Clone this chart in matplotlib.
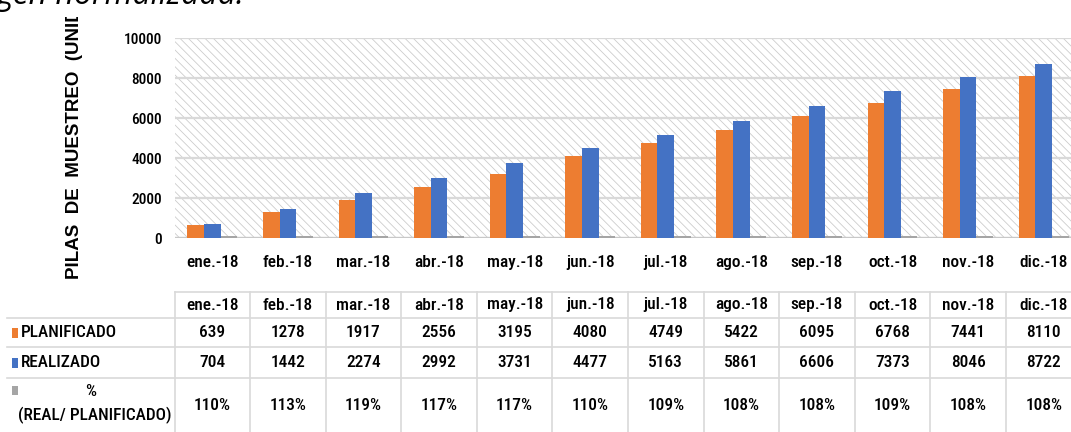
import matplotlib
matplotlib.use("Agg")
import matplotlib.pyplot as plt
import matplotlib.transforms as mtransforms
from matplotlib import font_manager as fm
from matplotlib.patches import Rectangle
from matplotlib.lines import Line2D
import numpy as np

# ---- data -------------------------------------------------------------
months = ["ene.-18", "feb.-18", "mar.-18", "abr.-18", "may.-18", "jun.-18",
          "jul.-18", "ago.-18", "sep.-18", "oct.-18", "nov.-18", "dic.-18"]
planificado = [639, 1278, 1917, 2556, 3195, 4080, 4749, 5422, 6095, 6768, 7441, 8110]
realizado = [704, 1442, 2274, 2992, 3731, 4477, 5163, 5861, 6606, 7373, 8046, 8722]
porcentaje = [110, 113, 119, 117, 117, 110, 109, 108, 108, 109, 108, 108]
yticks = [0, 2000, 4000, 6000, 8000, 10000]
row_labels = ["PLANIFICADO", "REALIZADO"]

# ---- style ------------------------------------------------------------
C_PLAN = "#ED7D31"
C_REAL = "#4472C4"
C_PCT = "#A5A5A5"
C_GRID = "#D9D9D9"
WIDE = ["Liberation Sans", "DejaVu Sans"]


def narrow_font():
    """Pick a narrow sans-serif face if one is installed."""
    entries = fm.fontManager.ttflist
    names = {f.name for f in entries}
    for fam in ("Liberation Sans Narrow", "Arial Narrow", "Roboto Condensed",
                "Open Sans Condensed", "Noto Sans Condensed", "DejaVu Sans Condensed"):
        if fam in names:
            return dict(family=[fam, "DejaVu Sans"])
    for fam in ("DejaVu Sans", "Noto Sans", "Open Sans", "Roboto"):
        for f in entries:
            if f.name == fam and "condensed" in str(f.stretch) and f.weight in (400, "normal", "regular"):
                return dict(family=[fam, "DejaVu Sans"], stretch="condensed")
    return dict(family=["Liberation Sans", "DejaVu Sans"])


NKW = narrow_font()
NKW["weight"] = 500

W, H = 1071, 432
fig = plt.figure(figsize=(W / 100, H / 100), dpi=100)
fig.patch.set_facecolor("white")
renderer = fig.canvas.get_renderer()


def fit_size(s, width_px, lo, hi):
    """Font size at which string s spans about width_px pixels."""
    t = fig.text(0, 0, s, fontsize=13, **NKW)
    w = t.get_window_extent(renderer).width
    t.remove()
    return float(np.clip(13 * width_px / w, lo, hi))


FS = fit_size("ene.-18", 53.0, 10.5, 14.5)
FS_Y = fit_size("10000", 38.0, 10.5, 14.5)
FS_ROW = fit_size("PLANIFICADO", 96.0, 10.0, 14.5)

# plot area in pixel terms (left, top, width, height)
px_left, px_top, px_w, px_h = 174.5, 38, 907, 200
ax = fig.add_axes([px_left / W, 1 - (px_top + px_h) / H, px_w / W, px_h / H])

x = np.arange(len(months))
bw = 0.22
ax.bar(x - bw, planificado, bw, color=C_PLAN, zorder=3)
ax.bar(x, realizado, bw, color=C_REAL, zorder=3)
ax.bar(x + bw, porcentaje, bw, color=C_PCT, zorder=3)

ax.set_xlim(-0.5, len(months) - 0.5)
ax.set_ylim(0, 10000)
ax.set_yticks(yticks)
ax.set_yticklabels([str(v) for v in yticks], fontsize=FS_Y, **NKW)
ax.set_xticks(x)
ax.set_xticklabels(months, fontsize=FS, **NKW)
ax.tick_params(axis="both", length=0)
ax.tick_params(axis="y", pad=9)
ax.tick_params(axis="x", pad=12.5)
for s in ax.spines.values():
    s.set_visible(False)

# hatched plot background
plt.rcParams["hatch.linewidth"] = 0.6
ax.add_patch(Rectangle((0, 0), 1, 1, transform=ax.transAxes, facecolor="white",
                       edgecolor="#CCCCCC", hatch="\\\\\\\\", lw=0, zorder=0))
ax.set_axisbelow(True)
ax.yaxis.grid(True, color=C_GRID, lw=1.6, zorder=1)
ax.axhline(0, color="#C8C8C8", lw=1.6, zorder=2)

# ---- data table below the plot ----------------------------------------
ov = fig.add_axes([0, 0, 1, 1])
ov.set_xlim(0, W)
ov.set_ylim(H, 0)
ov.axis("off")
ov.patch.set_alpha(0)
col = mtransforms.blended_transform_factory(ax.transData, ov.transData)

y_head_top, y_r1, y_r2, y_r3, y_bot = 292, 318, 347, 378, 440
lw_t = 1.2
ov.add_line(Line2D([-0.5, len(months) - 0.5], [y_head_top, y_head_top],
                   transform=col, color=C_GRID, lw=lw_t))
for yy in (y_r1, y_r2, y_r3):
    ov.add_line(Line2D([7, W + 20], [yy, yy], color=C_GRID, lw=lw_t))
for k in range(len(months) + 1):
    ov.add_line(Line2D([k - 0.5, k - 0.5], [y_head_top, y_bot],
                       transform=col, color=C_GRID, lw=lw_t))

yc_head = (y_head_top + y_r1) / 2
yc_plan = (y_r1 + y_r2) / 2
yc_real = (y_r2 + y_r3) / 2
yc_pct = 405
for i in range(len(months)):
    ov.text(i, yc_head, months[i], transform=col, ha="center", va="center",
            fontsize=FS, **NKW)
    ov.text(i, yc_plan, str(planificado[i]), transform=col, ha="center",
            va="center", fontsize=FS, **NKW)
    ov.text(i, yc_real, str(realizado[i]), transform=col, ha="center",
            va="center", fontsize=FS, **NKW)
    ov.text(i, yc_pct, f"{porcentaje[i]}%", transform=col, ha="center",
            va="center", fontsize=FS, **NKW)

# row headers with legend keys
for yc, lab, c in ((yc_plan, row_labels[0], C_PLAN), (yc_real, row_labels[1], C_REAL)):
    ov.add_patch(Rectangle((12, yc - 5), 6, 10, facecolor=c, lw=0))
    ov.text(21, yc, lab, ha="left", va="center", fontsize=FS_ROW, **NKW)
ov.add_patch(Rectangle((12, 386), 6, 9, facecolor=C_PCT, lw=0))
ov.text(91, 391, "%", ha="center", va="center", fontsize=FS_ROW, **NKW)
ov.text(95, 415, "(REAL/ PLANIFICADO)", ha="center", va="center",
        fontsize=FS_ROW, **NKW)

# axis title
fig.text(75 / W, 1 - 279 / H, "PILAS  DE  MUESTREO  (UNIDADES)", rotation=90,
         ha="center", va="bottom", family=WIDE, fontweight="bold", fontsize=13.5,
         zorder=1)

# caption line above the chart (its white box sits over the axis title)
fig.text(-4 / W, 1 - 4 / H, "gen normalizada.", ha="left", va="baseline",
         family=["Open Sans", "DejaVu Sans"], style="italic", fontsize=23,
         zorder=5,
         bbox=dict(facecolor="white", edgecolor="none", pad=3.5))

fig.savefig("out.png", dpi=100, facecolor="white")
